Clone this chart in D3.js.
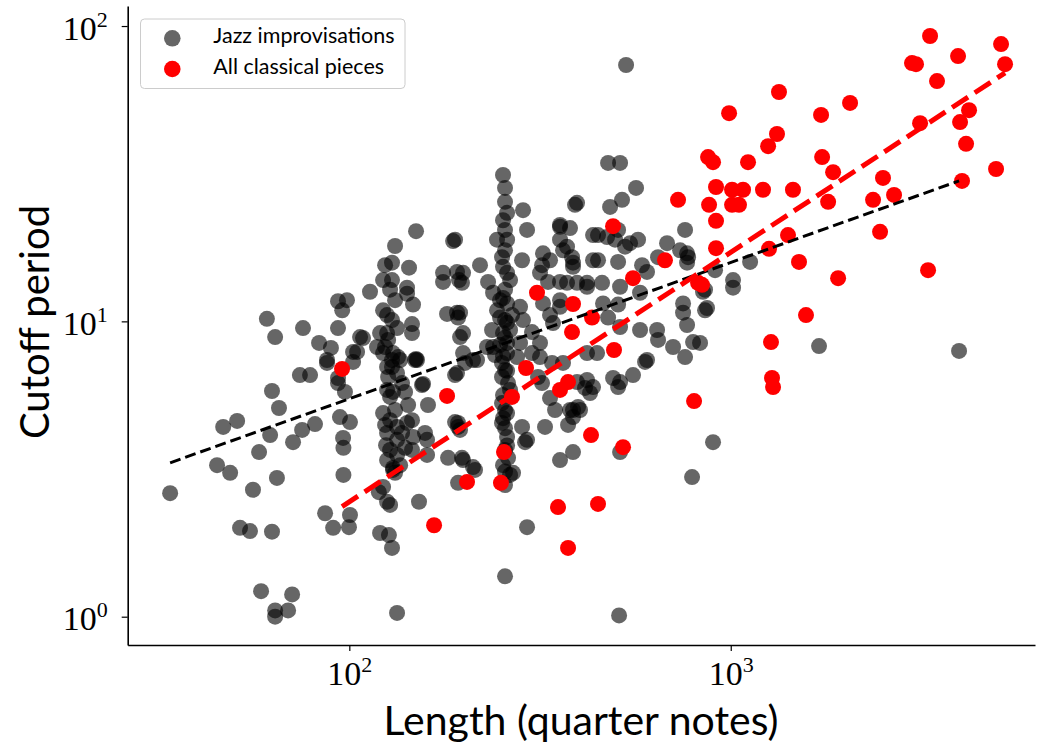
<!DOCTYPE html>
<html>
<head>
<meta charset="utf-8">
<script src="https://cdn.jsdelivr.net/npm/d3@7"></script>
<style>
  body { margin: 0; background: #fff; }
  svg { display: block; }
</style>
</head>
<body>
<svg width="1040" height="746"></svg>
<script>

// [length in quarter notes, cutoff period]
var jazz = [
  [33.9,2.62],[45.0,3.26],[48.7,3.07],[46.7,4.39],[50.8,4.60],[58.0,3.61],[55.9,2.69],[64.6,2.95],[62.7,5.81],[65.4,5.09],
  [62.0,4.12],[71.2,3.90],[75.2,4.29],[81.3,4.49],[74.2,6.58],[78.9,6.58],[87.4,7.23],[93.4,6.18],[97.4,5.77],[94.5,4.74],
  [100.4,4.56],[96.3,4.03],[96.5,3.73],[96.5,3.02],[86.4,2.24],[90.7,2.00],[100.4,2.21],[99.8,2.01],[51.7,2.00],[54.9,1.95],
  [62.7,1.94],[58.7,1.22],[70.8,1.19],[63.9,1.05],[69.1,1.05],[63.9,1.00],[133.4,1.03],[120.4,1.92],[127,1.89],[129.4,1.71],
  [152.3,2.45],[119.5,2.64],[125.6,2.45],[127.9,2.39],[160.8,5.21],[155.1,6.09],[189.3,6.58],[192.8,4.39],[181.5,3.45],[197.4,3.45],
  [192.8,2.84],[159.9,3.53],[130.2,3.14],[122.6,2.75],[125.6,3.39],[150.5,7.40],
  [60.8,10.2],[63.9,8.85],[75.6,9.49],[93.4,11.7],[98.6,11.8],[95.8,10.9],[93.4,9.49],[83.3,8.45],[89.5,8.13],[106.7,8.85],
  [108.6,8.78],[102.3,7.88],[87.4,7.40],[102.3,7.29],[118.2,8.19],[124.1,8.19],[130.2,7.81],[135.9,7.40],[125.6,7.01],[129.4,7.01],
  [149.6,7.46],[195.1,8.85],[198.7,7.81],[191.6,6.68],[93.4,6.43],
  [149.6,20.2],[131.8,18.0],[187.1,18.7],[124.1,15.5],[129.4,15.8],[143.4,15.2],[122.6,13.8],[129.4,13.8],[113.3,12.6],[141.7,13.0],
  [141.7,12.4],[146.9,11.4],[176.1,14.6],[176.1,13.6],[191.6,14.7],[193.9,13.8],[198.7,14.6],[180.4,10.6],[191.6,10.7],[192.8,10.3],
  [122.6,10.9],[125.6,10.5],[129.4,10.1],[133.4,9.49],[120.4,9.13],[125.6,9.13],[146.0,9.79],[146.0,9.13],
  [216.2,7.40],[104.8,7.88],[122.6,7.81],[129.4,7.40],[134.2,7.57],[148.7,7.40],[126.4,6.48],[133.4,6.68],[125.6,5.86],[127.9,5.55],
  [137.5,6.18],[140.0,5.77],[156.1,6.14],[142.6,5.21],[122.6,4.89],[127.9,4.63],[133.4,4.39],[141.7,4.53],[146.0,4.63],[125.6,4.19],
  [133.4,3.97],[137.5,4.19],[146.9,4.06],[157.9,4.19],[159.9,3.97],[127.9,3.67],[133.4,3.53],[140.0,3.73],[146.0,3.67],[130.2,3.19],
  [131.8,3.07],[192.8,4.53],[211.0,3.21],
  [127.9,12.8],[131.8,11.8],[126.4,8.65],[131.8,5.01],[124.1,4.46],[130.2,5.77],[135.9,3.26],[124.8,3.81],
  [252.9,31.3],[256.0,25.4],[285.4,23.8],[259.2,23.3],[292.4,20.4],[256.0,20.4],[243.9,18.9],[259.2,18.9],[390.6,24.8],[356.8,20.9],
  [379.0,20.7],[322.0,17.0],[356.8,18.9],[372.2,17.9],[383.6,16.5],[385.9,15.8],[335.9,16.1],[320.1,15.5],[283.7,16.1],[251.4,16.5],
  [252.9,15.3],[220.1,15.5],[197.4,13.5],[331.9,13.6],[316.2,14.6],[356.8,13.6],[395.4,13.5],[420.0,13.5],[231.1,13.6],[238.2,12.5],
  [256.0,12.8],[259.2,11.5],[280.3,11.2],[285.4,10.1],[322.0,11.5],[335.9,10.5],[356.8,11.2],[342.0,9.87],[248.4,10.3],[236.7,9.35],
  [252.9,9.13],[238.2,8.19],[259.2,8.45],[301.3,9.20],[316.2,8.45],[280.3,8.45],[229.6,8.19],[211.0,7.40],[198.7,9.13],[195.1,10.7],
  [251.4,7.23],[259.2,7.81],[275.3,7.57],[301.3,7.81],[316.2,7.57],[340.0,7.23],[363.3,7.23],[320.1,6.18],[312.4,6.48],[335.9,5.50],
  [346.2,5.01],[385.9,5.01],[397.8,5.13],[414.9,5.95],[251.4,6.48],[260.7,6.18],[251.4,5.29],[259.2,4.89],[251.4,4.53],[256.0,4.35],
  [283.7,4.39],[292.4,3.97],[325.9,4.39],[259.2,4.06],[374.5,4.46],[385.9,3.61],[356.8,3.39],[268.7,3.07],[252.9,3.26],[213.6,3.14],
  [198.7,3.39],[201.1,7.23],
  [256.0,17.4],[263.9,13.8],[248.4,11.8],[256.0,10.1],[263.9,9.35],[248.4,8.32],[256.0,6.84],[263.9,5.86],[252.9,5.63],[256.0,3.67],
  [260.7,3.45],[243.9,10.9],[267.1,10.5],[241.0,7.69],
  [256.0,28.3],[252.9,22.0],[259.2,14.6],[252.9,12.0],[259.2,9.9],[256.0,8.8],[252.9,7.6],[259.2,6.8],[256.0,5.0],[252.9,4.7],
  [259.2,3.8],[256.0,3.1],
  [476.9,34.4],[512.7,34.4],[564.6,28.3],[518.8,25.8],[482.7,24.4],[395.4,25.2],[356.8,21.2],[435.5,19.6],[506.6,20.4],[544.5,18.4],
  [528.4,17.9],[571.4,18.9],[474.0,19.3],[497.5,18.9],[680.8,18.4],[759.0,20.4],[736.5,17.4],[772.9,16.5],[363.3,17.4],[385.9,15.3],
  [435.5,16.1],[448.8,16.1],[506.6,15.9],[585.4,15.5],[603.3,14.7],[644.8,16.5],[372.2,13.5],[420.0,13.1],[459.8,13.5],[512.7,13.1],
  [578.4,12.5],[356.8,11.8],[462.6,11.5],[506.6,11.4],[476.9,10.3],[512.7,9.57],[578.4,9.35],[641.0,9.35],[644.8,8.65],[706.0,8.19],
  [759.0,7.57],[796.5,8.51],[749.9,11.5],[749.9,10.7],[768.3,9.72],[866.7,11.1],[768.3,17.0],[845.9,12.6],[446.2,7.81],[420.0,7.81],
  [603.3,7.40],[554.4,6.58],[491.5,6.43],[506.6,5.99],[420.0,6.33],[435.5,5.99],[379.0,5.01],[402.6,5.01],[385.9,4.74],[512.7,3.61],
  [898.6,3.90],[768.3,15.8],[1014,13.8],[189.3,18.9],[448.8,19.6],
  [596.1,7.29],[512.7,6.23],[427.7,5.72],[395.4,6.23],[288.9,3.90],[189.3,4.56],[195.1,4.29],[263.9,3.02],[256.0,2.79],[791.8,2.97],
  [292.4,2.01],[256.0,1.37],[509.6,1.01],
  [1124,15.9],[909.6,14.9],[1014,13.0],[856.2,12.8],[856.2,10.9],[1704,8.25],[3968,7.94],[830.9,8.45],[531.6,73.8]
];

var classical = [
  [95.7,6.90],[180.4,5.59],[166.8,2.04],[203.5,2.86],[249.8,2.84],[254.4,3.61],[290.6,6.95],[310.5,12.5],[267,5.55],[374.5,6.23],
  [356.8,5.86],[374.5,1.71],[352.5,2.35],[448.8,2.41],[430.2,4.12],[521.9,3.75],[385.9,11.45],[432.8,10.3],[383.6,9.20],[494.3,8.0],
  [491.4,21.0],[554.3,14.0],[672.3,16.1],[727.5,25.8],[801.4,5.37],[821,13.5],[840.6,13.3],[872,36.0],[898.6,34.6],[915,28.5],
  [1008,27.9],[1077,27.9],[877.3,24.8],[1008,24.8],[1051,24.8],[915,21.9],[915,17.7],[990,50.7],[1110,34.6],[1215,27.9],
  [1253,39.2],[1322,43.1],[1338,59.8],[1413,19.6],[1260,17.6],[1456,27.9],[1510,15.9],[1575,10.5],[1275,8.51],[1283,6.43],
  [1291,5.99],[1725,50.0],[1736,36.0],[1855,32.0],[1800,25.4],[1912,14.0],[2055,54.9],[2361,25.8],[2507,30.6],[2680,26.8],
  [2463,20.1],[3291,14.9],[2987,74.9],[3060,74.3],[3331,92.5],[3474,65.1],[3944,79.1],[3136,46.9],[3992,47.3],[4215,51.9],
  [4140,39.9],[4040,29.9],[4961,32.8],[5113,86.9],[5238,74.3]
];

// power-law fits, end points
var jazzFit = [[33.9, 3.32], [3968, 29.9]];
var classicalFit = [[95.7, 2.36], [5238, 69.4]];

var xTicks = [100, 1000];
var yTicks = [1, 10, 100];
var legendLabels = ["Jazz improvisations", "All classical pieces"];


var svg = d3.select("svg");

svg.append("rect")
    .attr("width", 1040)
    .attr("height", 746)
    .attr("fill", "#fff");

var x = d3.scaleLog().domain([26.24, 6276]).range([127.7, 1035]);
var y = d3.scaleLog().domain([0.802, 116.9]).range([645, 6]);


function powerLabel(text, v) {
    text.append("tspan").text("10");
    text.append("tspan")
        .attr("dy", -13)
        .attr("font-size", 22)
        .text(Math.round(Math.log10(v)));
}


// points
svg.append("g")
  .selectAll("circle")
  .data(jazz)
  .enter().append("circle")
    .attr("cx", function(d) { return x(d[0]); })
    .attr("cy", function(d) { return y(d[1]); })
    .attr("r", 8)
    .attr("fill", "#000")
    .attr("fill-opacity", 0.6);

svg.append("g")
  .selectAll("circle")
  .data(classical)
  .enter().append("circle")
    .attr("cx", function(d) { return x(d[0]); })
    .attr("cy", function(d) { return y(d[1]); })
    .attr("r", 8)
    .attr("fill", "#ff0000");

var line = d3.line()
    .x(function(d) { return x(d[0]); })
    .y(function(d) { return y(d[1]); });

svg.append("path")
    .datum(jazzFit)
    .attr("d", line)
    .attr("fill", "none")
    .attr("stroke", "#000")
    .attr("stroke-width", 3)
    .attr("stroke-dasharray", "11,5");

svg.append("path")
    .datum(classicalFit)
    .attr("d", line)
    .attr("fill", "none")
    .attr("stroke", "#ff0000")
    .attr("stroke-width", 5)
    .attr("stroke-dasharray", "19,8");


// axes
var xAxis = svg.append("g")
    .attr("transform", "translate(0,645)")
    .call(d3.axisBottom(x).tickValues(xTicks).tickFormat("").tickSize(6).tickSizeOuter(0));

var yAxis = svg.append("g")
    .attr("transform", "translate(127.7,0)")
    .call(d3.axisLeft(y).tickValues(yTicks).tickFormat("").tickSize(6).tickSizeOuter(0));

svg.selectAll(".domain").attr("stroke", "#000").attr("stroke-width", 1.6);
svg.selectAll(".tick line").attr("stroke", "#000").attr("stroke-width", 1.2);

xAxis.selectAll(".tick").append("text")
    .attr("y", 40)
    .attr("fill", "#000")
    .attr("font-family", "Liberation Serif, serif")
    .attr("font-size", 34)
    .attr("text-anchor", "middle")
    .each(function(d) { powerLabel(d3.select(this), d); });

yAxis.selectAll(".tick").append("text")
    .attr("x", -20)
    .attr("y", 13)
    .attr("fill", "#000")
    .attr("font-family", "Liberation Serif, serif")
    .attr("font-size", 34)
    .attr("text-anchor", "end")
    .each(function(d) { powerLabel(d3.select(this), d); });


// axis labels
svg.append("text")
    .attr("x", 581)
    .attr("y", 735)
    .attr("text-anchor", "middle")
    .attr("font-family", "Lato, sans-serif")
    .attr("font-size", 41)
    .text("Length (quarter notes)");

svg.append("text")
    .attr("transform", "translate(49,322) rotate(-90)")
    .attr("text-anchor", "middle")
    .attr("font-family", "Lato, sans-serif")
    .attr("font-size", 40)
    .text("Cutoff period");


// legend
var legend = svg.append("g");

legend.append("rect")
    .attr("x", 140.5)
    .attr("y", 19)
    .attr("width", 264.5)
    .attr("height", 69.5)
    .attr("rx", 4)
    .attr("fill", "#fff")
    .attr("fill-opacity", 0.8)
    .attr("stroke", "#cccccc")
    .attr("stroke-width", 1);

var legendColors = ["rgba(0,0,0,0.6)", "#ff0000"];

legend.selectAll("circle")
  .data(legendLabels)
  .enter().append("circle")
    .attr("cx", 172.3)
    .attr("cy", function(d, i) { return 38.3 + i * 30.7; })
    .attr("r", 8.3)
    .attr("fill", function(d, i) { return legendColors[i]; });

legend.selectAll("text")
  .data(legendLabels)
  .enter().append("text")
    .attr("x", 213.3)
    .attr("y", function(d, i) { return 43.3 + i * 30.7; })
    .attr("font-family", "Lato, sans-serif")
    .attr("font-size", 21.5)
    .text(function(d) { return d; });

</script>
</body>
</html>
